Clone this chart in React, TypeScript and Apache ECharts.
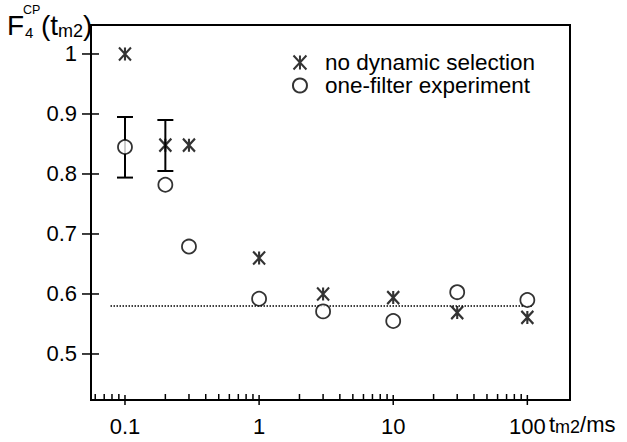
import React, { useEffect, useRef } from "react";
import * as echarts from "echarts";

// ---- data ----
const times = [0.1, 0.2, 0.3, 1, 3, 10, 30, 100];
const noDynamicSelection = [1.0, 0.848, 0.848, 0.66, 0.6, 0.594, 0.569, 0.561];
const oneFilterExperiment = [0.845, 0.782, 0.679, 0.592, 0.571, 0.555, 0.603, 0.59];
const errorBarTimes = [0.1, 0.2];
const errorBarLow = [0.794, 0.805];
const errorBarHigh = [0.895, 0.89];
const plateauLevel = 0.58;
const plateauRange = [0.078, 108];

const xMajorTicks = [0.1, 1, 10, 100];
const xMinorTicks = [
  0.06, 0.07, 0.08, 0.09,
  0.2, 0.3, 0.4, 0.5, 0.6, 0.7, 0.8, 0.9,
  2, 3, 4, 5, 6, 7, 8, 9,
  20, 30, 40, 50, 60, 70, 80, 90,
];
const yTicks = [0.5, 0.6, 0.7, 0.8, 0.9, 1];

const X_MIN = 0.0558;
const X_MAX = 208;
const Y_MIN = 0.4233;
const Y_MAX = 1.0483;

const FONT = "Liberation Sans, Arial, Helvetica, sans-serif";
const STAR = "path://M0,0L12,13M12,0L0,13M6,0L6,13";

export default function App() {
  const ref = useRef<HTMLDivElement>(null);

  useEffect(() => {
    if (!ref.current) return;
    const chart = echarts.init(ref.current, null, { renderer: "svg" });

    const xTickData = [
      ...xMajorTicks.map((v) => [v, 1]),
      ...xMinorTicks.map((v) => [v, 0]),
    ];
    const yTickData = yTicks.map((v) => [X_MIN, v]);

    const txt = (text: string, left: number, top: number, fontSize: number) => ({
      type: "text",
      left,
      top,
      style: { text, fontSize, fontFamily: FONT, fill: "#000" },
    });

    const option: any = {
      animation: false,
      backgroundColor: "#fff",
      textStyle: { fontFamily: FONT },
      grid: {
        left: 91,
        top: 25,
        right: 57,
        bottom: 42,
        show: true,
        borderColor: "#000",
        borderWidth: 2,
        backgroundColor: "transparent",
      },
      legend: {
        data: ["no dynamic selection", "one-filter experiment"],
        orient: "vertical",
        left: 291,
        top: 51,
        padding: 0,
        itemWidth: 14,
        itemHeight: 14,
        itemGap: 0,
        textStyle: {
          fontSize: 22.5,
          color: "#000",
          fontFamily: FONT,
          lineHeight: 20,
          padding: [0, 0, 0, 13],
        },
      },
      xAxis: {
        type: "log",
        logBase: 10,
        min: X_MIN,
        max: X_MAX,
        axisLine: { show: false },
        axisTick: { show: false },
        minorTick: { show: false },
        splitLine: { show: false },
        axisLabel: {
          customValues: xMajorTicks,
          margin: 15,
          fontSize: 22,
          color: "#000",
          fontFamily: FONT,
          formatter: (v: number) => String(v),
        },
      },
      yAxis: {
        type: "value",
        min: Y_MIN,
        max: Y_MAX,
        axisLine: { show: false },
        axisTick: { show: false },
        splitLine: { show: false },
        axisLabel: {
          customValues: yTicks,
          margin: 14,
          fontSize: 22,
          color: "#000",
          fontFamily: FONT,
          formatter: (v: number) => String(v),
        },
      },
      graphic: [
        txt("F", 7, 11, 28),
        txt("CP", 23, 3, 12.5),
        txt("4", 25, 25, 15),
        {
          type: "text",
          left: 41,
          top: 11,
          style: {
            text: "{a|(t}{b|m2}{a|)}",
            fontFamily: FONT,
            fill: "#000",
            rich: {
              a: { fontSize: 28, lineHeight: 30, fontFamily: FONT, fill: "#000" },
              b: { fontSize: 18, lineHeight: 16, verticalAlign: "bottom", fontFamily: FONT, fill: "#000" },
            },
          },
        },
        {
          type: "text",
          left: 549,
          top: 413,
          style: {
            text: "{a|t}{b|m2}{a|/ms}",
            fontFamily: FONT,
            fill: "#000",
            rich: {
              a: { fontSize: 22, lineHeight: 24, fontFamily: FONT, fill: "#000" },
              b: { fontSize: 18, lineHeight: 14, verticalAlign: "bottom", fontFamily: FONT, fill: "#000" },
            },
          },
        },
      ],
      series: [
        {
          type: "line",
          name: "plateau",
          data: plateauRange.map((x) => [x, plateauLevel]),
          symbol: "none",
          lineStyle: { color: "#000", width: 1.5, type: [1.5, 1.5] },
          silent: true,
          z: 1,
        },
        {
          type: "custom",
          name: "errorbars",
          data: errorBarTimes.map((t, i) => [t, errorBarLow[i], errorBarHigh[i]]),
          renderItem: (params: any, api: any) => {
            const lo = api.coord([api.value(0), api.value(1)]);
            const hi = api.coord([api.value(0), api.value(2)]);
            const hw = 8;
            const style = { stroke: "#000", lineWidth: 2, fill: "none" };
            return {
              type: "group",
              children: [
                { type: "line", shape: { x1: lo[0], y1: lo[1], x2: hi[0], y2: hi[1] }, style },
                { type: "line", shape: { x1: lo[0] - hw, y1: lo[1], x2: lo[0] + hw, y2: lo[1] }, style },
                { type: "line", shape: { x1: hi[0] - hw, y1: hi[1], x2: hi[0] + hw, y2: hi[1] }, style },
              ],
            };
          },
          z: 2,
        },
        {
          type: "scatter",
          name: "no dynamic selection",
          data: times.map((t, i) => [t, noDynamicSelection[i]]),
          symbol: STAR,
          symbolSize: [12, 13],
          itemStyle: { color: "none", borderColor: "#000", borderWidth: 2.2 },
          z: 4,
        },
        {
          type: "scatter",
          name: "one-filter experiment",
          data: times.map((t, i) => [t, oneFilterExperiment[i]]),
          symbol: "circle",
          symbolSize: 14,
          itemStyle: { color: "#fff", borderColor: "#000", borderWidth: 1.8 },
          z: 3,
        },
        {
          type: "custom",
          name: "xticks",
          data: xTickData,
          clip: false,
          silent: true,
          renderItem: (params: any, api: any) => {
            const major = api.value(1) === 1;
            const p = api.coord([api.value(0), Y_MIN]);
            return {
              type: "line",
              shape: { x1: p[0], y1: p[1] - (major ? 5 : 6), x2: p[0], y2: p[1] + (major ? 5 : 0) },
              style: { stroke: "#000", lineWidth: 1.5 },
            };
          },
          z: 5,
        },
        {
          type: "custom",
          name: "yticks",
          data: yTickData,
          clip: false,
          silent: true,
          renderItem: (params: any, api: any) => {
            const p = api.coord([api.value(0), api.value(1)]);
            return {
              type: "line",
              shape: { x1: p[0] - 9, y1: p[1], x2: p[0] + 8, y2: p[1] },
              style: { stroke: "#000", lineWidth: 1.5 },
            };
          },
          z: 5,
        },
      ],
    };

    chart.setOption(option);
    return () => chart.dispose();
  }, []);

  return <div ref={ref} style={{ width: 627, height: 442, position: "absolute", left: 0, top: 0 }} />;
}
